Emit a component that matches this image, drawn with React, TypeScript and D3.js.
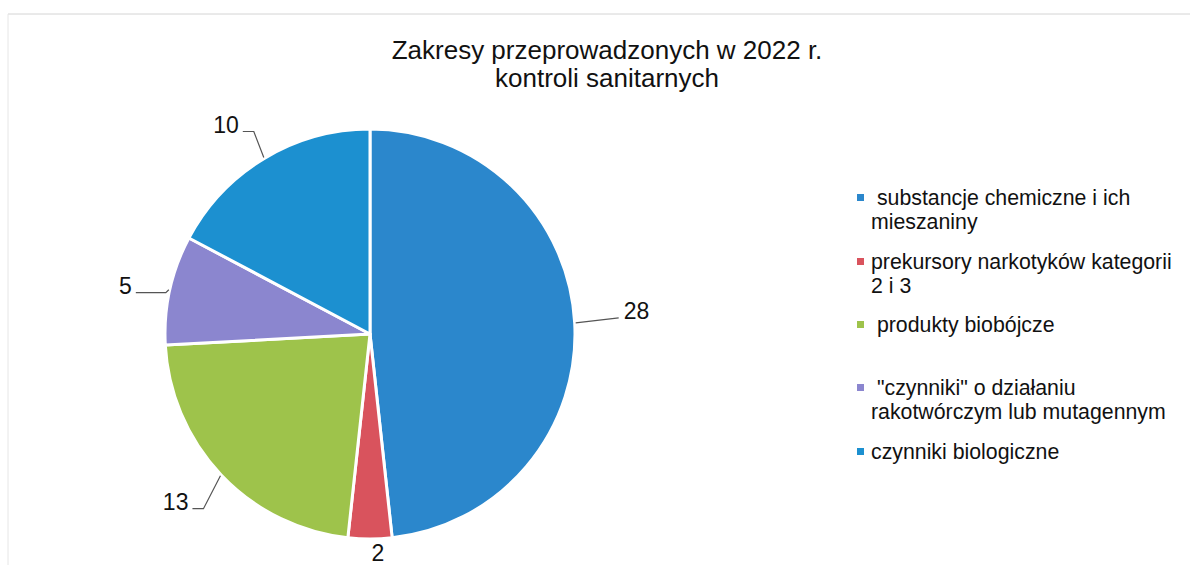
import React from "react";
import * as d3 from "d3";

const categories = [
  " substancje chemiczne i ich mieszaniny",
  "prekursory narkotyków kategorii 2 i 3",
  " produkty biobójcze",
  " \"czynniki\" o działaniu rakotwórczym lub mutagennym",
  "czynniki biologiczne",
];
const values = [28, 2, 13, 5, 10];
const colors = ["#2b87cc", "#d9535d", "#9ec34b", "#8b86cf", "#1c90d0"];
const legendLines = [
  [" substancje chemiczne i ich", "mieszaniny"],
  ["prekursory narkotyków kategorii", "2 i 3"],
  [" produkty biobójcze"],
  [" \"czynniki\" o działaniu", "rakotwórczym lub mutagennym"],
  ["czynniki biologiczne"],
];
const titleLines = ["Zakresy przeprowadzonych w 2022 r.", "kontroli sanitarnych"];

// label leader layout: [elbow dx, elbow dy, horizontal length] relative to arc edge
const leaderLayout: [number, number, number][] = [
  [43, -5, 0],
  [0, 0, 0],
  [-17, 33, -11],
  [-3, 3, -30],
  [-10, -26, -11],
];

export default function App() {
  const W = 1194, H = 565;
  const cx = 370, cy = 334, r = 205;
  const pie = d3.pie<number>().sort(null).value((d) => d);
  const arcs = pie(values);
  const arcGen = d3.arc<d3.PieArcDatum<number>>().innerRadius(0).outerRadius(r);
  const legendBase = [205, 269, 332, 395, 459];
  const font = "'Liberation Sans', Arial, sans-serif";

  return (
    <svg width={W} height={H} style={{ position: "absolute", left: 0, top: 0, background: "#fff" }}
      fontFamily={font}>
      <line x1={8} y1={14} x2={1190} y2={14} stroke="#d4d4d4" strokeWidth={1} />
      <line x1={8} y1={14} x2={8} y2={565} stroke="#e6e6e6" strokeWidth={1} />
      {titleLines.map((t, i) => (
        <text key={i} x={607} y={59 + i * 28} textAnchor="middle" fontSize={26} fill="#111">{t}</text>
      ))}
      <g transform={`translate(${cx},${cy})`}>
        {arcs.map((a, i) => (
          <path key={i} d={arcGen(a) || ""} fill={colors[i]} stroke="#fff" strokeWidth={3} strokeLinejoin="round" />
        ))}
        {arcs.map((a, i) => {
          const mid = (a.startAngle + a.endAngle) / 2;
          const ex = Math.sin(mid) * (r + 1);
          const ey = -Math.cos(mid) * (r + 1);
          const [dx, dy, h] = leaderLayout[i];
          const bx = ex + dx, by = ey + dy;
          const hx = bx + h;
          if (i === 1) {
            return (
              <text key={i} x={ex + 8} y={ey + 21} textAnchor="middle" fontSize={23} fill="#111">{values[i]}</text>
            );
          }
          const right = dx > 0;
          const endX = right ? bx : hx;
          return (
            <g key={i}>
              <polyline points={`${ex},${ey} ${bx},${by} ${hx},${by}`} fill="none" stroke="#555" strokeWidth={1.2} />
              <text x={right ? endX + 5 : endX - 4} y={by + 1}
                textAnchor={right ? "start" : "end"} fontSize={23} fill="#111">{values[i]}</text>
            </g>
          );
        })}
      </g>
      {legendLines.map((lines, i) => (
        <g key={i}>
          <rect x={857} y={legendBase[i] - 11} width={7} height={7} fill={colors[i]} />
          {lines.map((t, j) => (
            <text key={j} x={871} y={legendBase[i] + j * 23.5} fontSize={21.3} fill="#111"
              style={{ whiteSpace: "pre" }}>{t}</text>
          ))}
        </g>
      ))}
    </svg>
  );
}
